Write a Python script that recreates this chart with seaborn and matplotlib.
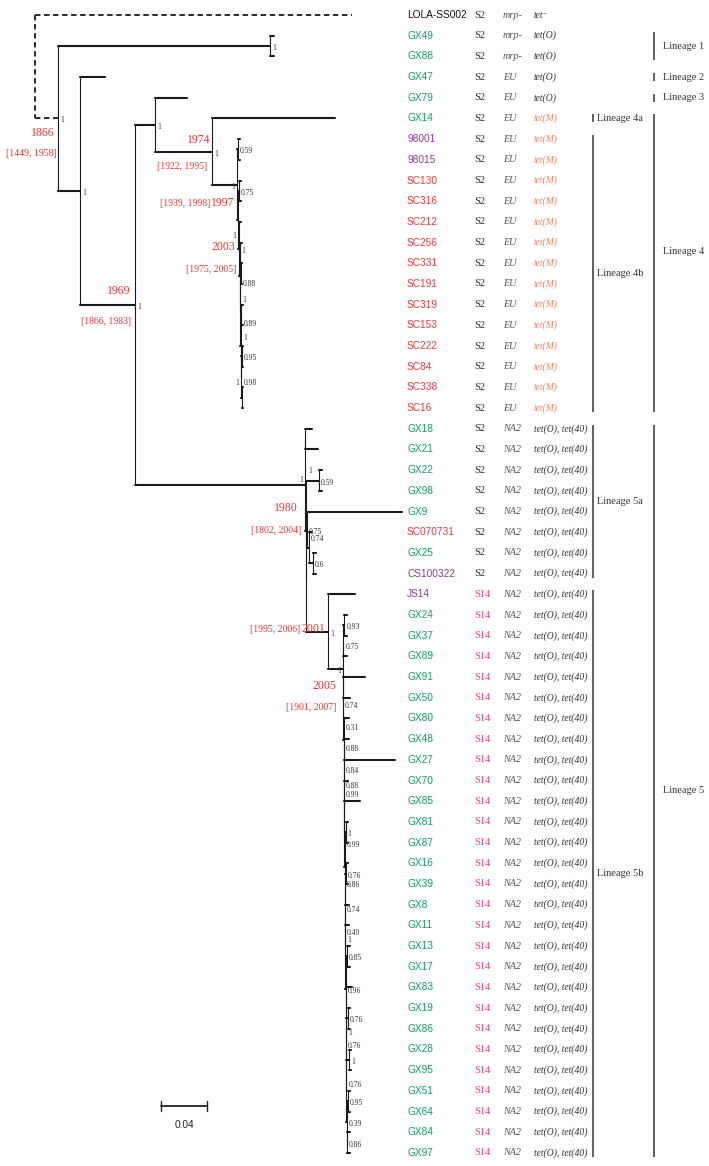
import matplotlib
matplotlib.use('Agg')
import matplotlib.pyplot as plt
import seaborn as sns
import pandas as pd
from matplotlib import font_manager

# Tree (branch lengths in 1e-3 substitutions/site, internal labels "id=support")
tree_newick = (
    "(LOLA-SS002:275.7,"
    "((GX49:3.5,GX88:3.5)L1=1:184.3,"
    "(GX47:21.7,"
    "((GX79:27.8,"
    "(GX14:107.0,"
    "((98001:1.7,98015:1.7)P=0.59:0.9,"
    "((SC130:1.7,SC316:1.7)Pc=0.75:0.9,"
    "(SC212:1.7,"
    "(SC256:1.7,"
    "((SC331:1.3,SC191:1.3)S1=0.88:0.4,"
    "((SC319:1.3,SC153:1.3)S2=0.89:0.4,"
    "((SC222:1.3,SC84:1.3)S3=0.95:0.4,(SC338:1.3,SC16:1.3)S4=0.98:0.4)W1=1:0.4"
    ")W2=1:0.4"
    ")W3=1:0.4"
    ")W4=:0.4"
    ")Q=1:1.3"
    ")G=1:0.9"
    ")F=1:21.7"
    ")E=1:49.6"
    ")D=1:17.4,"
    "((GX18:5.7,GX21:10.9)H1=:0.4,"
    "((GX22:2.6,GX98:2.6)K1=0.59:11.3,"
    "((GX9:82.6,(SC070731:2.6,(GX25:2.6,CS100322:2.6)K2=0.6:3.5)B5=0.74:1.7)H4=0.75:0.4,"
    "(JS14:23.5,"
    "(((GX24:2.2,GX37:2.2)X2=0.93:0.9,GX89:3.0)X1=0.75:0.4,"
    "(GX91:19.0,"
    "(GX50:5.7,"
    "(GX80:4.6,"
    "(GX48:4.4,"
    "(GX27:44.2,"
    "(GX70:3.1,"
    "(GX85:13.4,"
    "((GX81:2.2,GX87:2.2)Y1=1:0.9,"
    "((GX16:2.2,GX39:2.2)Y2=0.76:0.9,"
    "(GX8:3.0,"
    "(GX11:3.0,"
    "((GX13:2.6,GX17:2.6)Y3=0.85:1.3,"
    "(GX83:5.2,"
    "((GX19:1.7,GX86:1.7)Y4=0.76:1.7,"
    "((GX28:1.3,GX95:1.3)Y5=1:2.6,"
    "((GX51:1.3,GX64:1.3)Y6=0.95:1.3,"
    "(GX84:2.6,GX97:2.6)N18=0.86:0.2"
    ")N17=0.39:0.2"
    ")N16=0.76:0.2"
    ")N15=0.76:0.2"
    ")N14=1:0.2"
    ")N13=0.96:0.2"
    ")N12=1:0.2"
    ")N11=0.49:0.2"
    ")N10=0.74:0.2"
    ")N9=0.86:0.2"
    ")N8=0.99:0.2"
    ")N7=0.99:0.2"
    ")N6=0.88:0.2"
    ")N5=0.84:0.2"
    ")N4=0.88:0.2"
    ")N3=0.31:0.2"
    ")N2=0.74:0.2"
    ")N=1:13.0"
    ")J=1:18.7"
    ")H3=:0.4"
    ")H2=1:0.9"
    ")H=1:147.8"
    ")C=1:47.8"
    ")B=1:19.1"
    ")A=1:20.0"
    ")R;"
)

tip_names = ("LOLA-SS002 GX49 GX88 GX47 GX79 GX14 98001 98015 SC130 SC316 SC212 SC256 "
             "SC331 SC191 SC319 SC153 SC222 SC84 SC338 SC16 GX18 GX21 GX22 GX98 GX9 "
             "SC070731 GX25 CS100322 JS14 GX24 GX37 GX89 GX91 GX50 GX80 GX48 GX27 GX70 "
             "GX85 GX81 GX87 GX16 GX39 GX8 GX11 GX13 GX17 GX83 GX19 GX86 GX28 GX95 GX51 "
             "GX64 GX84 GX97").split()
serotype = ("S2 S2 S2 S2 S2 S2 S2 S2 S2 S2 S2 S2 S2 S2 S2 S2 S2 S2 S2 S2 S2 S2 S2 S2 S2 S2 S2 S2 "
            "S14 S14 S14 S14 S14 S14 S14 S14 S14 S14 S14 S14 S14 S14 S14 S14 S14 S14 S14 S14 "
            "S14 S14 S14 S14 S14 S14 S14 S14").split()
genotype = ("mrp- mrp- mrp- EU EU EU EU EU EU EU EU EU EU EU EU EU EU EU EU EU "
            "NA2 NA2 NA2 NA2 NA2 NA2 NA2 NA2 NA2 NA2 NA2 NA2 NA2 NA2 NA2 NA2 NA2 NA2 "
            "NA2 NA2 NA2 NA2 NA2 NA2 NA2 NA2 NA2 NA2 NA2 NA2 NA2 NA2 NA2 NA2 NA2 NA2").split()
tet_gene = (["tet\u207b"] + ["tet(O)"] * 4 + ["tet(M)"] * 15 + ["tet(O), tet(40)"] * 36)

date_node = ['A', 'C', 'E', 'F', 'G', 'H', 'J', 'N']
date_year = ['1866', '1969', '1974', '1997', '2003', '1980', '2001', '2005']
date_hpd = ['[1449, 1958]', '[1866, 1983]', '[1922, 1995]', '[1939, 1998]',
            '[1975, 2005]', '[1802, 2004]', '[1995, 2006]', '[1901, 2007]']

lineage_label = ['Lineage 1', 'Lineage 2', 'Lineage 3', 'Lineage 4', 'Lineage 5',
                 'Lineage 4a', 'Lineage 4b', 'Lineage 5a', 'Lineage 5b']
lineage_first = ['GX49', 'GX47', 'GX79', 'GX14', 'GX18', 'GX14', '98001', 'GX18', 'JS14']
lineage_last = ['GX88', 'GX47', 'GX79', 'SC16', 'GX97', 'GX14', 'SC16', 'CS100322', 'GX97']
lineage_outer = [True, True, True, True, True, False, False, False, False]

scale_bar_len = 0.04

# ---- layout (pixels) ----
W, H = 709, 1166
PX_PER_UNIT = 1150.0
ROOT_PX, ROW0_PX, ROW_PX = 35.0, 15.0, 20.69
left_support = {'F', 'G', 'H', 'N', 'W1'}
# vertical nudges (px) for crowded support labels
support_dy = {'G': 16, 'S1': 10, 'W3': -10, 'S2': 9, 'W2': -8, 'W1': 6, 'S4': -15,
              'H': -5, 'H2': -60, 'X1': 6, 'N2': 8, 'N3': 9, 'N4': 9, 'N5': 10,
              'N7': -12, 'N8': 11, 'N9': 18, 'N10': 8, 'N12': -17, 'N14': 12,
              'N15': -9, 'N16': -6, 'B5': -9, 'K2': 2}
# year dx, dy ; hpd dx, dy ; inline?
date_layout = {
    'A': (-3, 15, -1, 35, False),
    'C': (-4, -14, -4, 17, False),
    'E': (-2, -12, -5, 15, False),
    'F': (-2, 18, 0, 0, True),
    'G': (-3, 27, -2, 50, False),
    'H': (-7, 23, -4, 46, False),
    'J': (-3, -3, 0, 0, True),
    'N': (-6, 17, -6, 38, False),
}

sns.set_theme(style='white')
avail = {f.name for f in font_manager.fontManager.ttflist}
if 'Liberation Sans Narrow' in avail:
    SANS, name_size = ['Liberation Sans Narrow', 'DejaVu Sans'], 8.4
else:
    SANS, name_size = ['Liberation Sans', 'DejaVu Sans'], 7.3
SERIF = ['Liberation Serif', 'DejaVu Serif']
plt.rcParams['font.family'] = SERIF


def parse_newick(s):
    pos = 0

    def node():
        nonlocal pos
        n = {'children': [], 'label': '', 'length': 0.0}
        if s[pos] == '(':
            pos += 1
            while True:
                n['children'].append(node())
                if s[pos] == ',':
                    pos += 1
                    continue
                pos += 1
                break
        start = pos
        while s[pos] not in ':,();':
            pos += 1
        n['label'] = s[start:pos]
        if s[pos] == ':':
            pos += 1
            start = pos
            while s[pos] not in ',();':
                pos += 1
            n['length'] = float(s[start:pos])
        return n

    return node()


tree = parse_newick(tree_newick)
row_of = {name: i for i, name in enumerate(tip_names)}
nodes = {}


def layout(n, depth):
    n['x'] = depth + n['length'] * 1e-3
    if '=' in n['label']:
        n['id'], n['support'] = n['label'].split('=')
    else:
        n['id'], n['support'] = n['label'], ''
    nodes[n['id']] = n
    if n['children']:
        for c in n['children']:
            layout(c, n['x'])
        n['y'] = (n['children'][0]['y'] + n['children'][-1]['y']) / 2
    else:
        n['y'] = row_of[n['id']]


layout(tree, 0.0)

rows = []
seg = [0]


def add(x0, y0, x1, y1, kind):
    rows.append((seg[0], x0, y0, kind))
    rows.append((seg[0], x1, y1, kind))
    seg[0] += 1


def collect(n, parent, dashed):
    if parent is not None:
        add(parent['x'], n['y'], n['x'], n['y'], 'dash' if dashed else 'h')
    if n['children']:
        add(n['x'], n['children'][0]['y'], n['x'], n['children'][-1]['y'], 'dash' if n is tree else 'v')
        for c in n['children']:
            collect(c, n, n is tree)


collect(tree, None, False)
seg_df = pd.DataFrame(rows, columns=['seg', 'x', 'y', 'kind'])

fig = plt.figure(figsize=(W / 100, H / 100), dpi=100)
ax = fig.add_axes([0, 0, 1, 1])

sns.lineplot(data=seg_df[seg_df.kind == 'v'], x='x', y='y', units='seg', estimator=None,
             sort=False, color='#1a1a1a', linewidth=0.8, legend=False, ax=ax)
sns.lineplot(data=seg_df[seg_df.kind == 'h'], x='x', y='y', units='seg', estimator=None,
             sort=False, color='#1a1a1a', linewidth=1.5, legend=False, ax=ax)
sns.lineplot(data=seg_df[seg_df.kind == 'dash'], x='x', y='y', units='seg', estimator=None,
             sort=False, color='#1a1a1a', linewidth=1.3, linestyle=(0, (3, 2)),
             legend=False, ax=ax)


def dx(px):
    return px / PX_PER_UNIT


def dy(px):
    return px / ROW_PX


def xpx(px):
    return (px - ROOT_PX) / PX_PER_UNIT


def ypx(px):
    return (px - ROW0_PX) / ROW_PX


# support values
for nid, n in nodes.items():
    if not n['children'] or n['support'] == '' or n is tree:
        continue
    ny = n['y'] + dy(support_dy.get(nid, 2))
    if nid in left_support:
        ax.text(n['x'] - dx(2), ny, n['support'], ha='right', va='center',
                fontsize=5.5, color='#333333', family=SERIF)
    else:
        ax.text(n['x'] + dx(2), ny, n['support'], ha='left', va='center',
                fontsize=5.5, color='#333333', family=SERIF)

# divergence dates
date_red = '#ee3434'
for nid, yr, hpd in zip(date_node, date_year, date_hpd):
    n = nodes[nid]
    yx, yy, hx, hy, inline = date_layout[nid]
    ax.text(n['x'] + dx(yx), n['y'] + dy(yy), yr, ha='right', va='center',
            fontsize=8.5, color=date_red, family=SERIF)
    if inline:
        ax.text(n['x'] + dx(yx - 25), n['y'] + dy(yy + 1), hpd, ha='right', va='center',
                fontsize=7, color=date_red, family=SERIF)
    else:
        ax.text(n['x'] + dx(hx), n['y'] + dy(hy), hpd, ha='right', va='center',
                fontsize=7, color=date_red, family=SERIF)

# tip annotation columns
green, red, purple = '#13a05e', '#ee3b3b', '#8c3a96'
pink, orange = '#ec3f86', '#f3845e'
for i, name in enumerate(tip_names):
    if name.startswith('GX'):
        c = green
    elif name.startswith('SC'):
        c = red
    elif name.startswith('LOLA'):
        c = '#111111'
    else:
        c = purple
    ax.text(xpx(407), i, name, ha='left', va='center', fontsize=name_size, color=c, family=SANS)
    ax.text(xpx(474), i, serotype[i], ha='left', va='center', fontsize=7.5,
            color=pink if serotype[i] == 'S14' else '#2b2b2b', family=SERIF)
    ax.text(xpx(503), i, genotype[i], ha='left', va='center', fontsize=7.3, style='italic',
            color='#555555', family=SERIF)
    ax.text(xpx(534), i, tet_gene[i], ha='left', va='center', fontsize=6.9, style='italic',
            color=orange if tet_gene[i] == 'tet(M)' else '#333333', family=SERIF)

# lineage brackets
label_dy = {'Lineage 4': -12}
for lab, first, last, outer in zip(lineage_label, lineage_first, lineage_last, lineage_outer):
    bx = xpx(654) if outer else xpx(593)
    y0, y1 = row_of[first] - dy(4), row_of[last] + dy(4)
    ax.plot([bx, bx], [y0, y1], color='#444444', lw=1.2, solid_capstyle='butt')
    ax.text(bx + dx(9 if outer else 4), (y0 + y1) / 2 + dy(label_dy.get(lab, 0)), lab,
            ha='left', va='center', fontsize=7.5, color='#333333', family=SERIF)

# scale bar
sb_x, sb_y = xpx(161), ypx(1106)
ax.plot([sb_x, sb_x + scale_bar_len], [sb_y, sb_y], color='#222222', lw=1.3)
for xx in (sb_x, sb_x + scale_bar_len):
    ax.plot([xx, xx], [sb_y - dy(5), sb_y + dy(5)], color='#222222', lw=1.0)
ax.text(sb_x + scale_bar_len / 2, ypx(1125), f'{scale_bar_len:.2f}', ha='center', va='center',
        fontsize=name_size, color='#222222', family=SANS)

ax.set_xlim(-ROOT_PX / PX_PER_UNIT, (W - ROOT_PX) / PX_PER_UNIT)
ax.set_ylim((H - ROW0_PX) / ROW_PX, -ROW0_PX / ROW_PX)
ax.axis('off')
fig.savefig('out.png', dpi=100, facecolor='white')
